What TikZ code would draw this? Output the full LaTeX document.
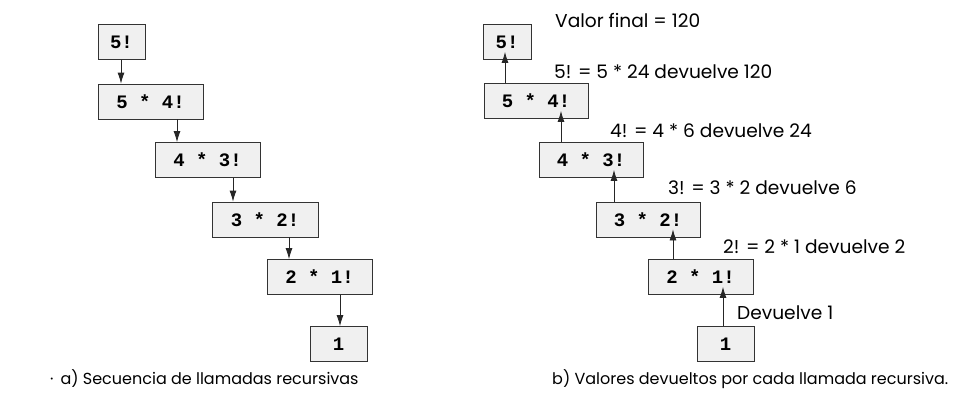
\documentclass[tikz,border=0pt]{standalone}
\usepackage{fontspec}
\setmainfont{Poppins}
\newfontfamily\boxfont{Liberation Mono}
\usetikzlibrary{arrows.meta}
\begin{document}
\begin{tikzpicture}[x=1pt,y=-1pt,
  fbox/.style={draw=black!80,line width=0.8pt,fill=gray!12,minimum height=35pt,inner sep=0pt,font=\boxfont\bfseries\fontsize{19}{19}\selectfont},
  arr/.style={draw=black!85,line width=0.8pt,-{Latex[length=11pt,width=7pt]}},
  lbl/.style={anchor=west,inner sep=0pt,font=\fontsize{18.6}{19}\selectfont},
  captext/.style={anchor=west,inner sep=0pt,font=\fontsize{16}{17}\selectfont}]
\useasboundingbox (0,0) rectangle (966,400);
% left
\node[fbox,minimum width=47pt]  (L1) at (121.5,42)  {5!};
\node[fbox,minimum width=105pt] (L2) at (150.5,101.5) {5 * 4!};
\node[fbox,minimum width=105pt] (L3) at (207.5,160) {4 * 3!};
\node[fbox,minimum width=106pt] (L4) at (265,219.5) {3 * 2!};
\node[fbox,minimum width=105pt] (L5) at (319.5,277) {2 * 1!};
\node[fbox,minimum width=57pt]  (L6) at (338.5,344) {1};
\draw[arr] (L1.south -| 121,0) -- (L2.north -| 121,0);
\draw[arr] (L2.south -| 177,0) -- (L3.north -| 177,0);
\draw[arr] (L3.south -| 233,0) -- (L4.north -| 233,0);
\draw[arr] (L4.south -| 289,0) -- (L5.north -| 289,0);
\draw[arr] (L5.south -| 340,0) -- (L6.north -| 340,0);
% right
\node[fbox,minimum width=48pt]  (R1) at (507,42)  {5!};
\node[fbox,minimum width=104pt] (R2) at (536,101) {5 * 4!};
\node[fbox,minimum width=104pt] (R3) at (591,160) {4 * 3!};
\node[fbox,minimum width=104pt] (R4) at (648,219.5) {3 * 2!};
\node[fbox,minimum width=105pt] (R5) at (700.5,277) {2 * 1!};
\node[fbox,minimum width=57pt]  (R6) at (725.5,344) {1};
\draw[arr] (R2.north -| 505,0) -- ([yshift=8pt]R1.south -| 505,0);
\draw[arr] (R3.north -| 561,0) -- ([yshift=8pt]R2.south -| 561,0);
\draw[arr] (R4.north -| 614,0) -- ([yshift=8pt]R3.south -| 614,0);
\draw[arr] (R5.north -| 673,0) -- ([yshift=8pt]R4.south -| 673,0);
\draw[arr] (R6.north -| 723,0) -- ([yshift=8pt]R5.south -| 723,0);
\node[lbl] (t0) at (555,20) {Valor final = 120};
\node[lbl] (t1) at (554,72) {5! = 5 * 24 devuelve 120};
\node[lbl] (t2) at (610,131) {4! = 4 * 6 devuelve 24};
\node[lbl] (t3) at (668,188) {3! = 3 * 2 devuelve 6};
\node[lbl] (t4) at (723,247) {2! = 2 * 1 devuelve 2};
\node[lbl] (t5) at (737,313) {Devuelve 1};
% captions
\node[captext] (ca) at (50,379) {·\hspace{7pt}a) Secuencia de llamadas recursivas};
\node[captext] (cb) at (552,379) {b) Valores devueltos por cada llamada recursiva.};
\end{tikzpicture}
\end{document}
